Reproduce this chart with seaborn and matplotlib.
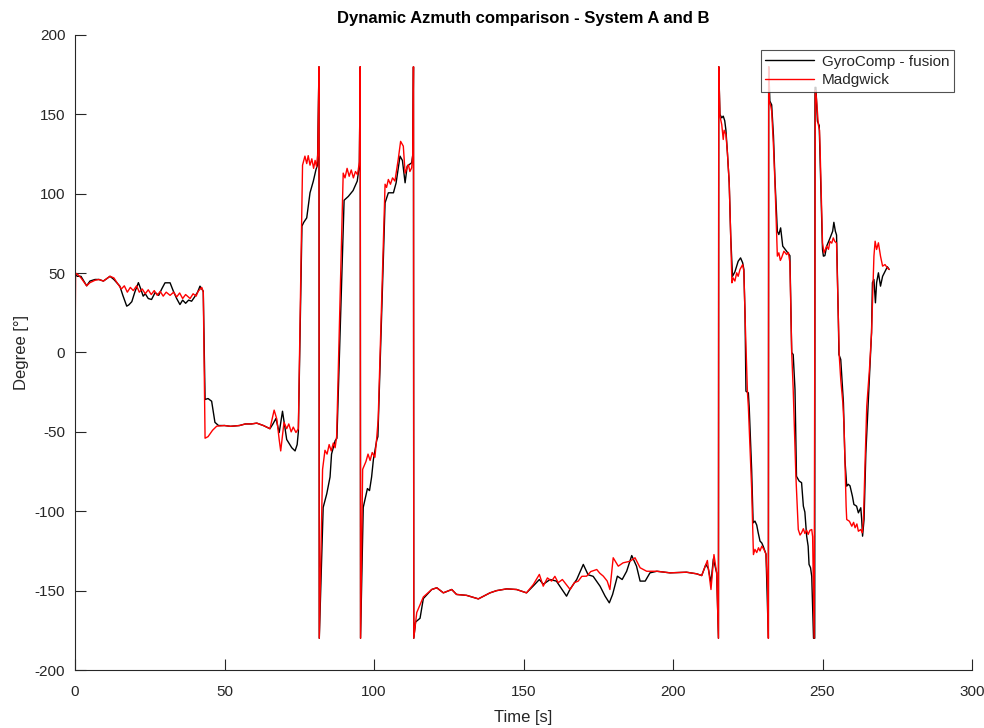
import numpy as np
import pandas as pd
import matplotlib
matplotlib.use("Agg")
import matplotlib.pyplot as plt
import seaborn as sns

# GyroComp - fusion heading samples (time in s, azimuth in degrees)
gyro_t = [
    0, 0.7, 2, 3.9, 5, 6.7, 8, 9.5, 11.7, 13, 15, 16, 17.3, 18, 19, 20, 21.2, 22, 22.8, 23.5,
    24.5, 25.6, 26.8, 28, 29, 30.1, 31.8, 32.9, 34, 35.1, 36, 37, 38, 39, 40, 41, 41.8, 42.9,
    43.5, 44.5, 45.7, 46.8, 48, 50, 52, 55, 57, 59, 60.8, 63, 65.2, 66.2, 67.2, 68.3, 69.4,
    70.8, 72.5, 73.6, 74.3, 74.7, 75.9, 76.5, 77.5, 78.6, 79.7, 80.6, 81.1, 81.6, 81.7,
    83, 84.2, 85.3, 85.8, 87, 87.6, 90, 91.4, 93, 94.4, 95.1, 95.4, 95.5,
    96.4, 97.8, 98.5, 99.2, 99.8, 100.9, 101.3, 103.7, 104.8, 106.5, 107.4, 108.7, 109.5,
    110.4, 111.1, 112.6, 113, 113.2, 113.3, 113.9, 115.4, 116.5, 119.3, 121, 123.2, 126,
    127.6, 131, 134.9, 138.8, 141, 144.4, 147.7, 151, 153.3, 155.3, 156.6, 158.9, 161,
    164.4, 165.6, 167.8, 170, 171.6, 173.3, 175.6, 177.3, 178.7, 179.8, 181.4, 183, 184.5,
    186.2, 187.8, 189, 190.7, 192.3, 194.6, 199, 204.5, 207.9, 209.6, 211, 211.8, 212.7,
    213.5, 214.6, 215.2, 215.3, 215.7, 216.3, 216.8, 217.3, 217.7, 218.2, 218.8, 219.3,
    219.9, 220.7, 221.8, 222.6, 223.3, 223.7, 224.1, 224.4, 225.2, 225.5, 226.3, 226.8,
    227.4, 228, 228.5, 229.1, 229.7, 230.2, 231.1, 231.7, 231.9, 232.0, 232.4, 233, 233.6,
    234.1, 234.9, 235.4, 236, 236.7, 237.5, 239.1, 239.7, 240.2, 240.8, 241.3, 242.2, 243,
    243.6, 244.1, 244.7, 245.2, 245.5, 246, 246.4, 247, 247.4, 247.5, 247.8, 248.3, 248.9,
    249.5, 250, 250.3, 250.8, 251.4, 252.5, 253.4, 253.8, 254.3, 254.7, 255.3, 255.5, 256.1,
    256.5, 257, 257.5, 258.1, 258.6, 259.2, 260, 260.5, 261.4, 262, 262.8, 263.1, 263.4,
    263.9, 264.5, 265.3, 266.4, 266.7, 267.2, 267.7, 268.1, 268.7, 269.4, 270.1, 270.9,
    271.7, 272.3,
]
gyro_deg = [
    50, 48, 48, 42, 45, 46, 46, 45, 48, 46, 41.8, 36, 29.2, 30, 32, 38, 44, 40, 35.5, 37,
    34, 33.4, 37.8, 36, 40, 43.9, 43.9, 38.6, 34, 30.2, 33, 31, 33, 32.3, 35, 38, 41.8, 38.6,
    -29.6, -29, -30.7, -44, -46, -46, -46.5, -46, -45, -45, -44.5, -46, -48, -45, -41.6, -50.4, -37,
    -54.8, -60, -62, -58, -50, 79.6, 82, 84.8, 100.6, 107.9, 115.3, 118, 180, -180,
    -97.6, -89, -78.4, -64, -55.6, -54, 95.9, 98.3, 102, 108, 118, 180, -180,
    -97.6, -85.7, -87, -78.4, -67.4, -55.4, -53, 94.3, 100.6, 100.6, 106.9, 123.7, 121,
    106.9, 117.4, 119.5, 125, 180, -180, -169.8, -167.4, -155, -149.3, -148.2, -151.4, -149.3,
    -152.4, -153, -155.2, -151.4, -150, -148.9, -149.3, -151.4, -147, -143, -146, -143, -144,
    -153.5, -149, -143, -133.5, -140, -141, -147.2, -153.5, -157.7, -152.4, -140.9, -143, -137.8,
    -127.9, -134.6, -144, -144, -138.8, -137.8, -138.8, -138.4, -139.4, -140.5, -133.5, -136, -145,
    -130, -138.8, -180, 180, 150, 147.8, 148.9, 146, 140, 125.8, 106.9, 73.3,
    48, 50.8, 57.5, 59.6, 56.5, 52.3, 22.7, -24.4, -25.4, -35, -73.7, -107.3,
    -106.2, -108.7, -113.6, -118.8, -120, -122.2, -127, -168, -180, 180, 158.3, 156, 136.5,
    109, 76.4, 74.3, 78.5, 67, 65, 61, 0, -1.3, -23.3, -78, -81, -82,
    -96.8, -100.5, -115.7, -122, -133.5, -135.6, -141, -180, -180, 167, 167, 145.7, 143,
    100, 64.9, 60.7, 61, 67, 72, 76.4, 82, 76.4, 74, 20.8, -1.3, -4.4,
    -17, -31.7, -67.4, -84.2, -83, -84, -90.5, -95.7, -96.8, -101, -97.8, -105, -115.7,
    -105, -63.2, -31.7, 12.4, 44, 46, 31.3, 44, 50.2, 41.8, 48, 51,
    54, 52.3,
]

# Madgwick filter heading samples (time in s, azimuth in degrees)
madg_t = [
    0, 0.2, 1, 2, 3.9, 5, 6.7, 8, 9.5, 11.7, 13, 14.4, 15.5, 16.5, 17.5, 18.5, 19.5, 20.6,
    21.5, 22.5, 23.5, 24.5, 25.5, 26.5, 27.5, 28.5, 29.5, 30.5, 31.8, 33, 34, 35, 36, 37,
    38.5, 39.5, 40.5, 41.2, 42.4, 42.9, 43.5, 44.5, 46, 47.4, 50, 52, 55, 57, 59, 60.8, 63,
    65.2, 66.6, 67.5, 68.3, 68.8, 69.9, 70.8, 71.5, 72.3, 73, 73.9, 74.7, 76.1, 76.9, 77.5,
    78, 78.6, 79.2, 79.8, 80.3, 80.8, 81.2, 81.6, 81.7, 82.8, 83.6, 84.3, 85, 85.7, 86.4,
    87, 87.5, 89.7, 90.3, 91, 91.7, 92.4, 93.1, 93.8, 94.5, 95.1, 95.4, 95.5, 96.2, 97.3,
    98, 98.7, 99.4, 100.3, 100.9, 101.4, 103.7, 104.2, 104.8, 105.5, 106.2, 107, 108.1,
    108.9, 109.8, 110.4, 111.5, 112, 112.6, 113, 113.2, 113.3, 114.3, 116.5, 119.3, 121,
    123.2, 126, 127.6, 131, 134.9, 138.8, 141, 144.4, 147.7, 151, 153.3, 155.3, 156.6, 158,
    159.4, 160.5, 161.6, 163, 165.6, 167, 168.3, 169.5, 171.1, 172.5, 174.5, 175.5, 176.7,
    178, 178.9, 180, 181.7, 183.3, 185.6, 187.3, 189, 191.2, 194.6, 199, 204.5, 207.9,
    209.6, 211, 211.5, 212.1, 212.7, 213.7, 214.6, 215.2, 215.3, 215.7, 216.3, 216.8,
    217.1, 217.7, 218.2, 218.8, 219.3, 219.7, 220.1, 220.7, 221.3, 221.8, 222.4, 223.3,
    223.7, 224.1, 224.9, 225.2, 226.3, 226.9, 227.4, 228, 228.6, 229.1, 229.7, 230.4, 231.1,
    231.7, 231.9, 232.0, 232.2, 232.7, 233, 233.6, 234.1, 234.7, 234.9, 235.4, 235.9, 236.3,
    237.1, 238, 238.6, 239.1, 239.7, 240.2, 241.1, 241.9, 242.5, 243, 243.6, 244.1, 244.7,
    245.2, 245.8, 246.4, 246.7, 247.2, 247.6, 247.8, 248.1, 248.6, 249, 249.2, 249.7, 250,
    250.5, 251.4, 252, 252.5, 253.1, 253.6, 254.1, 254.7, 255.3, 255.6, 256.1, 256.8, 257.2,
    257.9, 258.1, 259, 259.8, 260.4, 260.9, 261.5, 262, 262.8, 263.3, 263.7, 264.2, 264.8,
    265.7, 266.4, 266.9, 267.2, 267.6, 268.1, 268.7, 269.4, 270.1, 270.9, 271.7, 272.3,
]
madg_deg = [
    0, 50, 49, 47, 42, 44, 45.5, 46, 45, 48, 47, 43, 40, 42, 38, 41, 39, 42,
    38, 40, 37, 39.5, 36.5, 39, 36, 38.5, 35.5, 38, 36, 38, 35, 37.5, 34, 36.5,
    34, 37, 35.5, 38.6, 41, 38, -54, -53, -49, -46.4, -46, -46.5, -46, -45, -45, -44.5, -46,
    -48, -36.3, -42, -55, -62, -44, -48, -45, -50, -47, -50.4, -48, 118, 123.7, 119,
    124, 118, 122, 116, 121, 117, 125, 180, -180, -73.6, -61.6, -64, -58, -62, -57,
    -60, -53, 113, 110, 116, 111, 115, 110, 114, 112, 120, 180, -180, -73.6, -68.7,
    -64, -68, -63, -66, -54, -42, 106, 104, 109, 106, 110, 108, 121.6,
    133, 130, 113, 118.4, 114, 116.3, 125, 180, -180, -163.8, -154, -149.3, -148.2,
    -151.4, -149.3, -152.4, -153, -155.2, -151.4, -150, -148.9, -149.3, -151.4, -146.1, -139.8, -147.2, -142,
    -144, -141, -145, -143, -149.3, -145, -144, -141, -140.9, -138, -136.7, -139, -140.9,
    -144, -149.3, -129.3, -134.6, -132.5, -131.5, -129.3, -135.6, -137.8, -137.8, -138.8, -138.4, -139.4,
    -140.5, -133.5, -131, -140, -149.3, -127.3, -138.8, -180, 180, 148.9, 143.6, 134.2,
    140, 137.3, 125.8, 106.9, 73.3, 43.9, 47, 45, 50.2, 48, 52.3, 55.4,
    51.2, 22.7, -25.5, -34, -85.6, -127.3, -124, -126, -123, -125, -122, -124, -127,
    -150, -180, 180, 158.3, 155.2, 152, 130, 106.9, 73.3, 60.7, 62.8, 58, 59.6,
    63.8, 61.7, 63, 56.5, 0, -23.3, -78, -111.5, -115, -113.6, -111, -114, -112,
    -114.6, -112, -111.5, -116, -180, 165, 163.6, 157, 143.6, 140, 127.9, 92, 69,
    62.8, 67, 65, 70, 68.9, 72.2, 70, 68.9, 20.8, -2, -17, -31.7, -46,
    -96.8, -105.2, -106.3, -109.4, -107, -110.4, -108, -112.6, -111.5, -113.6, -105.2, -71.6, -33.8,
    -10.7, 12.4, 44, 60.7, 70.1, 64.9, 69.1, 60.7, 54.4, 55.4, 53.3, 52.3,
]

series_names = ["GyroComp - fusion", "Madgwick"]
series_colors = ["#000000", "#ff0000"]

x_ticks = [0, 50, 100, 150, 200, 250, 300]
y_ticks = [-200, -150, -100, -50, 0, 50, 100, 150, 200]

df = pd.concat([
    pd.DataFrame({"t": gyro_t, "deg": gyro_deg, "series": series_names[0]}),
    pd.DataFrame({"t": madg_t, "deg": madg_deg, "series": series_names[1]}),
], ignore_index=True)

sns.set_style("white")
plt.rcParams["font.family"] = ["Liberation Sans", "DejaVu Sans"]
plt.rcParams["axes.unicode_minus"] = False

fig = plt.figure(figsize=(9.84, 7.28), dpi=100)
ax = fig.add_axes([75 / 984, 1 - 670 / 728, (972 - 75) / 984, (670 - 35) / 728])

sns.lineplot(data=df, x="t", y="deg", hue="series", hue_order=series_names,
             palette=series_colors, estimator=None, sort=False, units="series",
             linewidth=1.0, ax=ax)

ax.set_xlim(0, 300)
ax.set_ylim(-200, 200)
ax.set_xticks(x_ticks)
ax.set_yticks(y_ticks)
axis_grey = "#262626"
ax.tick_params(direction="in", length=8, width=0.8, colors=axis_grey,
               labelsize=11, bottom=True, left=True, top=False, right=False)
ax.tick_params(axis="x", pad=11)
ax.tick_params(axis="y", pad=7)
for side in ["top", "right"]:
    ax.spines[side].set_visible(False)
for side in ["left", "bottom"]:
    ax.spines[side].set_color(axis_grey)
    ax.spines[side].set_linewidth(0.8)

ax.set_title("Dynamic Azmuth comparison - System A and B", fontsize=12,
             fontweight="bold", color="#000000", pad=9)
ax.set_xlabel("Time [s]", fontsize=12, color=axis_grey, labelpad=8)
ax.set_ylabel("Degree [°]", fontsize=12, color=axis_grey, labelpad=4)

leg = ax.legend(loc="upper right", bbox_to_anchor=(954 / 984, 1 - 50 / 728),
                bbox_transform=fig.transFigure, frameon=True, fancybox=False,
                edgecolor="#262626", fontsize=11, handlelength=3.2,
                borderpad=0.3, labelspacing=0.3, handletextpad=0.5, borderaxespad=0)
leg.get_frame().set_linewidth(0.8)
for txt in leg.get_texts():
    txt.set_color(axis_grey)

fig.savefig("out.png", dpi=100, facecolor="white")
